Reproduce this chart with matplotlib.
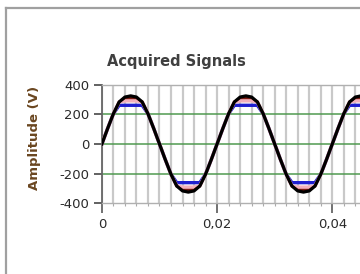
import matplotlib.pyplot as plt
from matplotlib.lines import Line2D
import numpy as np

# sample times (s), one sample per ms
t = np.arange(0, 0.0505, 0.001)

# main acquired signal (V)
black = [0, 105, 205, 285, 318, 326, 318, 285, 205, 105,
         0, -105, -205, -285, -318, -326, -318, -285, -205, -105,
         0, 105, 205, 285, 318, 326, 318, 285, 205, 105,
         0, -105, -205, -285, -318, -326, -318, -285, -205, -105,
         0, 105, 205, 285, 318, 326, 318, 285, 205, 105, 0]
# clipped companion traces, only visible at the peaks
red = [0, 105, 205, 285, 312, 312, 312, 285, 205, 105,
       0, -105, -205, -285, -312, -312, -312, -285, -205, -105,
       0, 105, 205, 285, 312, 312, 312, 285, 205, 105,
       0, -105, -205, -285, -312, -312, -312, -285, -205, -105,
       0, 105, 205, 285, 312, 312, 312, 285, 205, 105, 0]
pink = [0, 105, 205, 285, 293, 293, 293, 285, 205, 105,
        0, -105, -205, -285, -293, -293, -293, -285, -205, -105,
        0, 105, 205, 285, 293, 293, 293, 285, 205, 105,
        0, -105, -205, -285, -293, -293, -293, -285, -205, -105,
        0, 105, 205, 285, 293, 293, 293, 285, 205, 105, 0]
blue = [0, 105, 205, 262, 262, 262, 262, 262, 205, 105,
        0, -105, -205, -262, -262, -262, -262, -262, -205, -105,
        0, 105, 205, 262, 262, 262, 262, 262, 205, 105,
        0, -105, -205, -262, -262, -262, -262, -262, -205, -105,
        0, 105, 205, 262, 262, 262, 262, 262, 205, 105, 0]

yticks = [-400, -200, 0, 200, 400]
xticks = [0, 0.02, 0.04]
xticklabels = ['0', '0,02', '0,04']

fig = plt.figure(figsize=(3.6, 2.74), dpi=100)
ax = fig.add_axes([0.283, 0.259, 0.80, 0.431])

# grid
for xv in np.arange(0, 0.0505, 0.002):
    ax.axvline(xv, color='#c9c9c9', lw=1.6, zorder=0)
for yv in [-200, 0, 200]:
    ax.axhline(yv, color='#4f9a4f', lw=1.1, zorder=1)

ax.plot(t, blue, color='#1f1fd0', lw=2.4, zorder=2)
ax.plot(t, pink, color='#f2b0bc', lw=2.6, zorder=3)
ax.plot(t, red, color='#7a1a10', lw=1.8, zorder=4)
ax.plot(t, black, color='black', lw=2.3, zorder=5)

ax.set_xlim(0, 0.05)
ax.set_ylim(-400, 400)
ax.set_yticks(yticks)
ax.set_yticklabels([str(v) for v in yticks])
ax.set_xticks(xticks)
ax.set_xticklabels(xticklabels)
ax.set_xticks(np.arange(0, 0.0505, 0.002), minor=True)
ax.tick_params(axis='y', direction='out', length=6, width=1.3, color='#555555',
               labelsize=9.5, labelcolor='#2a2a2a', pad=3)
ax.tick_params(axis='x', which='major', direction='out', length=7, width=1.3,
               color='#666666', labelsize=9.5, labelcolor='#2a2a2a', pad=4)
ax.tick_params(axis='x', which='minor', direction='out', length=2, width=0.8,
               color='#aaaaaa')
for s in ax.spines.values():
    s.set_color('#b0b0b0')
    s.set_linewidth(1.0)
ax.spines['left'].set_color('#666666')
ax.spines['left'].set_linewidth(1.3)

fig.text(0.097, 0.496, 'Amplitude (V)', color='#6a4620', fontsize=9.5,
         fontweight='bold', rotation=90, ha='center', va='center')
fig.text(0.297, 0.774, 'Acquired Signals', fontsize=10.5, fontweight='bold',
         color='#404040', ha='left', va='center')

# panel frame
fig.add_artist(Line2D([0.017, 1.0], [0.97, 0.97], color='#a0a0a0', lw=1.6))
fig.add_artist(Line2D([0.017, 0.017], [0.0, 0.97], color='#a0a0a0', lw=1.6))

fig.savefig('out.png', dpi=100)
